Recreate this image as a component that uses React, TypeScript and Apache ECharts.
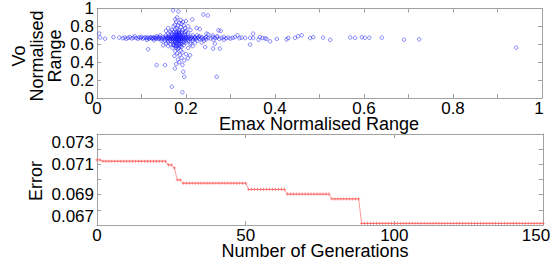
import React, { useEffect, useRef } from "react";
import * as echarts from "echarts";

// ---- Top plot: Emax normalised range vs Vo normalised range ----
const leftBand: number[][] = [
  [0.005, 0.72], [0.007, 0.675], [0.018, 0.663], [0.037, 0.68], [0.05, 0.675], [0.058, 0.668],
  [0.062, 0.676], [0.066, 0.662], [0.07, 0.672], [0.074, 0.68], [0.078, 0.666], [0.082, 0.674],
  [0.085, 0.69], [0.088, 0.67], [0.092, 0.662], [0.095, 0.678], [0.098, 0.67], [0.1, 0.684],
  [0.103, 0.664], [0.106, 0.672], [0.109, 0.678], [0.112, 0.668], [0.114, 0.676], [0.117, 0.662],
  [0.119, 0.672], [0.121, 0.68], [0.123, 0.668], [0.125, 0.674], [0.127, 0.664], [0.129, 0.678],
  [0.131, 0.67], [0.133, 0.662], [0.134, 0.69], [0.136, 0.675], [0.138, 0.665], [0.14, 0.68],
  [0.142, 0.7], [0.112, 0.65], [0.128, 0.645],
];

const corePoints: number[][] = [
  [0.16, 0.62], [0.17, 0.62], [0.175, 0.62], [0.18, 0.62], [0.185, 0.62], [0.19, 0.62], [0.195, 0.62], [0.2, 0.62], [0.21, 0.62],
  [0.145, 0.64], [0.152, 0.64], [0.16, 0.64], [0.165, 0.64], [0.17, 0.64], [0.175, 0.64], [0.18, 0.64], [0.185, 0.64], [0.19, 0.64],
  [0.195, 0.64], [0.2, 0.64], [0.205, 0.64], [0.215, 0.64], [0.225, 0.64],
  [0.14, 0.66], [0.146, 0.66], [0.152, 0.66], [0.158, 0.66], [0.163, 0.66], [0.168, 0.66], [0.172, 0.66], [0.176, 0.66], [0.18, 0.66],
  [0.184, 0.66], [0.188, 0.66], [0.192, 0.66], [0.197, 0.66], [0.202, 0.66], [0.208, 0.66], [0.215, 0.66], [0.222, 0.66], [0.23, 0.66], [0.238, 0.66],
  [0.143, 0.67], [0.15, 0.67], [0.156, 0.67], [0.161, 0.67], [0.166, 0.67], [0.17, 0.67], [0.174, 0.67], [0.178, 0.67], [0.182, 0.67],
  [0.186, 0.67], [0.19, 0.67], [0.194, 0.67], [0.199, 0.67], [0.205, 0.67], [0.211, 0.67], [0.218, 0.67], [0.226, 0.67], [0.234, 0.67],
  [0.242, 0.67], [0.25, 0.67],
  [0.148, 0.68], [0.154, 0.68], [0.16, 0.68], [0.165, 0.68], [0.17, 0.68], [0.174, 0.68], [0.178, 0.68], [0.182, 0.68], [0.186, 0.68],
  [0.19, 0.68], [0.195, 0.68], [0.2, 0.68], [0.206, 0.68], [0.213, 0.68], [0.22, 0.68], [0.228, 0.68], [0.236, 0.68], [0.245, 0.68],
  [0.155, 0.7], [0.162, 0.7], [0.168, 0.7], [0.173, 0.7], [0.178, 0.7], [0.183, 0.7], [0.188, 0.7], [0.193, 0.7], [0.198, 0.7],
  [0.205, 0.7], [0.215, 0.7], [0.225, 0.7],
  [0.16, 0.72], [0.168, 0.72], [0.175, 0.72], [0.18, 0.72], [0.185, 0.72], [0.19, 0.72], [0.197, 0.72], [0.205, 0.72],
  [0.165, 0.74], [0.172, 0.74], [0.178, 0.74], [0.184, 0.74], [0.19, 0.74], [0.198, 0.74],
  [0.172, 0.6], [0.178, 0.6], [0.184, 0.6], [0.19, 0.6], [0.175, 0.58], [0.181, 0.58], [0.187, 0.58],
  [0.178, 0.56], [0.184, 0.56], [0.176, 0.63], [0.182, 0.63], [0.188, 0.63], [0.179, 0.65], [0.185, 0.65],
  [0.176, 0.69], [0.182, 0.69], [0.188, 0.69], [0.179, 0.71], [0.185, 0.71], [0.178, 0.73], [0.184, 0.73],
  [0.17, 0.665], [0.18, 0.675], [0.19, 0.665], [0.2, 0.675], [0.21, 0.665], [0.16, 0.675], [0.22, 0.675],
];

const rightBand: number[][] = [
  [0.255, 0.665], [0.26, 0.68], [0.265, 0.67], [0.27, 0.675], [0.275, 0.66], [0.28, 0.672], [0.285, 0.68], [0.29, 0.668],
  [0.295, 0.675], [0.3, 0.665], [0.305, 0.672], [0.31, 0.68], [0.316, 0.7], [0.32, 0.668], [0.325, 0.675], [0.333, 0.67],
  [0.231, 0.77], [0.224, 0.781], [0.246, 0.719], [0.273, 0.756], [0.278, 0.75], [0.27, 0.69], [0.26, 0.7], [0.25, 0.71],
  [0.24, 0.64], [0.235, 0.62], [0.23, 0.69], [0.245, 0.655], [0.262, 0.65], [0.285, 0.65],
];

const sparseTail: number[][] = [
  [0.344, 0.672], [0.351, 0.719], [0.351, 0.67], [0.363, 0.652], [0.366, 0.68], [0.372, 0.67], [0.378, 0.667], [0.381, 0.66],
  [0.389, 0.633], [0.404, 0.66], [0.426, 0.655], [0.43, 0.67], [0.445, 0.672], [0.452, 0.69], [0.46, 0.7], [0.479, 0.67],
  [0.486, 0.68], [0.508, 0.675], [0.524, 0.65], [0.569, 0.676], [0.58, 0.672], [0.595, 0.678], [0.602, 0.672], [0.612, 0.674],
  [0.64, 0.674], [0.69, 0.652], [0.724, 0.656], [0.942, 0.563],
];

const upperSpike: number[][] = [
  [0.171, 0.978], [0.183, 0.967], [0.239, 0.933], [0.249, 0.922], [0.214, 0.878], [0.18, 0.9], [0.176, 0.88], [0.188, 0.87],
  [0.193, 0.85], [0.178, 0.85], [0.185, 0.84], [0.19, 0.83], [0.175, 0.82], [0.182, 0.81], [0.195, 0.81], [0.172, 0.8],
  [0.188, 0.79], [0.18, 0.78], [0.198, 0.78], [0.176, 0.77], [0.185, 0.76], [0.192, 0.76], [0.2, 0.75], [0.168, 0.76],
  [0.205, 0.8], [0.21, 0.76], [0.155, 0.75], [0.16, 0.78], [0.2, 0.86],
];

const lowerSpike: number[][] = [
  [0.165, 0.6], [0.172, 0.59], [0.178, 0.58], [0.185, 0.6], [0.19, 0.57], [0.195, 0.59], [0.17, 0.56], [0.182, 0.55],
  [0.188, 0.53], [0.176, 0.52], [0.192, 0.51], [0.18, 0.5], [0.186, 0.48], [0.2, 0.49], [0.174, 0.47], [0.19, 0.45],
  [0.182, 0.43], [0.196, 0.42], [0.185, 0.4], [0.178, 0.38], [0.192, 0.37], [0.175, 0.33], [0.194, 0.293], [0.196, 0.237],
  [0.168, 0.126], [0.192, 0.063], [0.134, 0.367], [0.153, 0.367], [0.115, 0.544], [0.149, 0.589], [0.209, 0.478],
  [0.204, 0.444], [0.243, 0.57], [0.261, 0.552], [0.276, 0.552], [0.265, 0.607], [0.344, 0.597], [0.269, 0.237],
  [0.155, 0.61], [0.16, 0.58], [0.205, 0.56], [0.21, 0.6], [0.215, 0.58], [0.22, 0.62],
];

// ---- Bottom plot: best error per generation, as [value, number of generations] runs ----
const errorRuns: number[][] = [
  [0.07129, 2], [0.07121, 22], [0.07096, 2], [0.07076, 1], [0.06997, 2], [0.06976, 22],
  [0.06935, 13], [0.06904, 15], [0.06872, 10], [0.06711, 62],
];

const FONT = "'Liberation Sans', Arial, sans-serif";
const GRAY = "#a0a0a0";
const PLUS = "path://M3,0H5V3H8V5H5V8H3V5H0V3H3Z";
const TICK_FS = 17;

function buildErrorData(): number[][] {
  const out: number[][] = [];
  let g = 0;
  for (const [v, n] of errorRuns) {
    for (let i = 0; i < n; i++) {
      out.push([g, v]);
      g++;
    }
  }
  return out;
}

function axisBase(gridIndex: number, position: string, min: number, max: number, interval: number, labels: any) {
  return {
    type: "value",
    gridIndex,
    position,
    min,
    max,
    interval,
    axisLine: { show: true, onZero: false, lineStyle: { color: GRAY, width: 1 } },
    axisTick: { show: true, inside: true, length: 4, lineStyle: { color: GRAY } },
    splitLine: { show: false },
    axisLabel: labels,
  };
}

export default function App() {
  const ref = useRef<HTMLDivElement>(null);
  useEffect(() => {
    if (!ref.current) return;
    const chart = echarts.init(ref.current, null, { renderer: "svg" });
    const lbl = {
      fontFamily: FONT, fontSize: TICK_FS, color: "#000",
      showMinLabel: true, showMaxLabel: true, hideOverlap: false,
    };
    const rich = (pad: number[]) => ({ r: { fontFamily: FONT, fontSize: TICK_FS, color: "#000", padding: pad } });
    const scatterData = [...leftBand, ...corePoints, ...rightBand, ...sparseTail, ...upperSpike, ...lowerSpike];
    chart.setOption({
      animation: false,
      backgroundColor: "#fff",
      grid: [
        { left: 97, top: 8, width: 445, height: 90 },
        { left: 97, top: 134, width: 446, height: 91 },
      ],
      xAxis: [
        axisBase(0, "bottom", 0, 1, 0.1, {
          ...lbl, margin: 2,
          formatter: (v: number) => {
            const k = Math.round(v * 10);
            if (k === 10) return "{r|1}";
            return k % 2 === 0 ? String(k / 10) : "";
          },
          rich: rich([0, 6, 0, 0]),
        }),
        axisBase(0, "top", 0, 1, 0.1, { show: false }),
        axisBase(1, "bottom", 0, 150, 50, {
          ...lbl, margin: 2,
          formatter: (v: number) => (v === 150 ? "{r|150}" : String(v)),
          rich: rich([0, 14, 0, 0]),
        }),
        axisBase(1, "top", 0, 150, 50, { show: false }),
      ],
      yAxis: [
        axisBase(0, "left", 0, 1, 0.2, {
          ...lbl, margin: 3,
          formatter: (v: number) => String(Math.round(v * 10) / 10),
        }),
        axisBase(0, "right", 0, 1, 0.2, { show: false }),
        axisBase(1, "left", 0.067, 0.073, 0.001, {
          ...lbl, margin: 3,
          verticalAlignMinLabel: "bottom",
          verticalAlignMaxLabel: "top",
          formatter: (v: number) => { const k = Math.round(v * 1000); return k % 2 === 1 ? (k / 1000).toFixed(3) : ""; },
        }),
        axisBase(1, "right", 0.067, 0.073, 0.001, { show: false }),
      ],
      series: [
        {
          type: "scatter",
          xAxisIndex: 0,
          yAxisIndex: 0,
          data: scatterData,
          symbol: "circle",
          symbolSize: 3.5,
          itemStyle: { color: "rgba(0,0,0,0)", borderColor: "#1a1aff", borderWidth: 0.65 },
        },
        {
          type: "line",
          xAxisIndex: 2,
          yAxisIndex: 2,
          data: buildErrorData(),
          symbol: PLUS,
          symbolSize: 3,
          showSymbol: true,
          showAllSymbol: true,
          lineStyle: { color: "#ff7070", width: 0.7 },
          itemStyle: { color: "#ff6060" },
        },
      ],
      graphic: [
        {
          type: "text", x: 37, y: 56, rotation: Math.PI / 2,
          style: { text: "Vo\nNormalised\nRange", fontFamily: FONT, fontSize: 18, lineHeight: 18, fill: "#000", align: "center", verticalAlign: "middle" },
        },
        {
          type: "text", x: 319, y: 123.5,
          style: { text: "Emax Normalised Range", fontFamily: FONT, fontSize: 18, lineHeight: 12, fill: "#000", align: "center", verticalAlign: "middle" },
        },
        {
          type: "text", x: 36, y: 181, rotation: Math.PI / 2,
          style: { text: "Error", fontFamily: FONT, fontSize: 18, fill: "#000", align: "center", verticalAlign: "middle" },
        },
        {
          type: "text", x: 315, y: 251,
          style: { text: "Number of Generations", fontFamily: FONT, fontSize: 18, lineHeight: 12, fill: "#000", align: "center", verticalAlign: "middle" },
        },
      ],
    });
    return () => chart.dispose();
  }, []);
  return <div ref={ref} style={{ position: "absolute", left: 0, top: 0, width: 554, height: 264 }} />;
}
